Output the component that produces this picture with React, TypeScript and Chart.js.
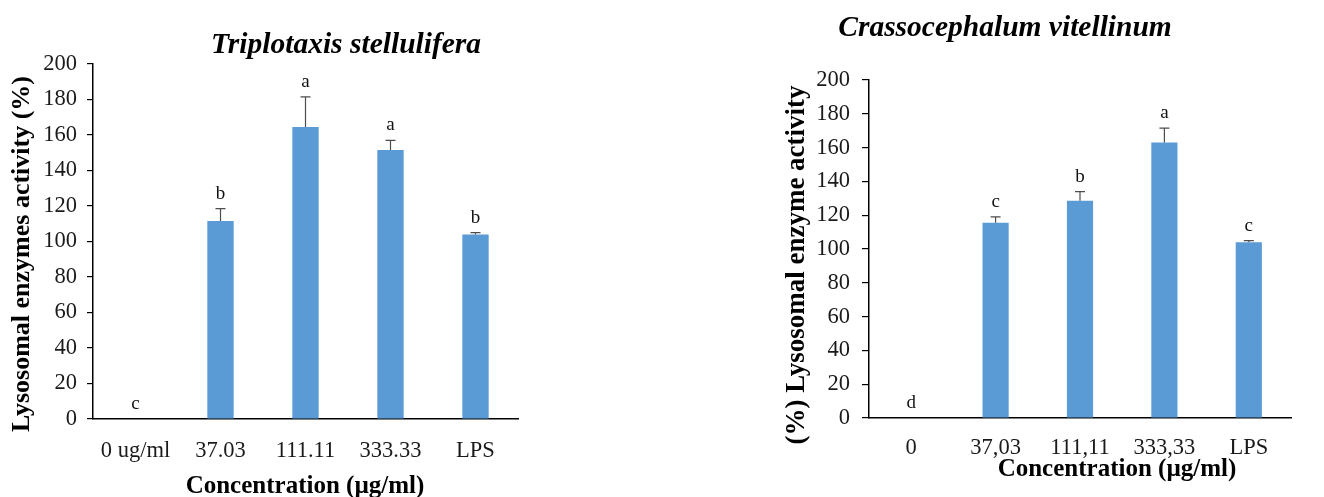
import React, { useEffect, useRef } from "react";
import { Chart, registerables } from "chart.js";

Chart.register(...registerables);

// ---- Data ----
const leftCategories = ["0 ug/ml", "37.03", "111.11", "333.33", "LPS"];
const leftValues = [0, 111.5, 164.5, 151.5, 104];
const leftErrors = [0, 7, 17, 5.5, 1];
const leftLetters = ["c", "b", "a", "a", "b"];

const rightCategories = ["0", "37,03", "111,11", "333,33", "LPS"];
const rightValues = [0, 115.5, 128.5, 163, 104];
const rightErrors = [0, 3.5, 5.5, 8.5, 1];
const rightLetters = ["d", "c", "b", "a", "c"];

const yTicks = [0, 20, 40, 60, 80, 100, 120, 140, 160, 180, 200];

const SERIF = "'Liberation Serif', 'Times New Roman', serif";
const BAR_COLOR = "#5B9BD5";

type PanelCfg = {
  categories: string[];
  values: number[];
  errors: number[];
  letters: string[];
  title: string;
  xTitle: string;
  yTitle: string;
  titlePos: [number, number];
  xTitlePos: [number, number];
  yTitlePos: [number, number];
  yTitleSize: number;
  padding: { top: number; right: number; left: number; bottom: number };
  yWidth: number;
  xHeight: number;
  tickLen: number;
  yPad: number;
  xPad: number;
};

function makeChart(canvas: HTMLCanvasElement, cfg: PanelCfg) {
  const overlay = {
    id: "overlay",
    afterDatasetsDraw(chart: any) {
      const ctx = chart.ctx as CanvasRenderingContext2D;
      const meta = chart.getDatasetMeta(0);
      const ys = chart.scales.y;
      ctx.save();
      meta.data.forEach((bar: any, i: number) => {
        const v = cfg.values[i];
        const e = cfg.errors[i];
        const x = bar.x;
        const yV = ys.getPixelForValue(v);
        const yT = ys.getPixelForValue(v + e);
        if (e > 0) {
          ctx.strokeStyle = "#4d4d4d";
          ctx.lineWidth = 1.2;
          ctx.beginPath();
          ctx.moveTo(x, yV);
          ctx.lineTo(x, yT);
          ctx.moveTo(x - 5, yT);
          ctx.lineTo(x + 5, yT);
          ctx.stroke();
        }
        ctx.fillStyle = "#111";
        ctx.font = `19px ${SERIF}`;
        ctx.textAlign = "center";
        ctx.textBaseline = "middle";
        ctx.fillText(cfg.letters[i], x, yT - 15);
      });
      // titles
      ctx.fillStyle = "#000";
      ctx.textAlign = "center";
      ctx.textBaseline = "middle";
      ctx.font = `italic bold 29.5px ${SERIF}`;
      ctx.fillText(cfg.title, cfg.titlePos[0], cfg.titlePos[1]);
      ctx.font = `bold 25px ${SERIF}`;
      ctx.fillText(cfg.xTitle, cfg.xTitlePos[0], cfg.xTitlePos[1]);
      ctx.save();
      ctx.translate(cfg.yTitlePos[0], cfg.yTitlePos[1]);
      ctx.rotate(-Math.PI / 2);
      ctx.font = `bold ${cfg.yTitleSize}px ${SERIF}`;
      ctx.fillText(cfg.yTitle, 0, 0);
      ctx.restore();
      ctx.restore();
    },
  };

  return new Chart(canvas, {
    type: "bar",
    data: {
      labels: cfg.categories,
      datasets: [
        {
          data: cfg.values,
          backgroundColor: BAR_COLOR,
          borderWidth: 0,
          barPercentage: 0.31,
          categoryPercentage: 1,
        },
      ],
    },
    options: {
      animation: false,
      responsive: true,
      maintainAspectRatio: false,
      layout: { padding: cfg.padding },
      plugins: {
        legend: { display: false },
        tooltip: { enabled: false },
        title: { display: false },
      },
      scales: {
        x: {
          grid: { display: false, drawTicks: false },
          border: { display: true, color: "#000", width: 1.5 },
          ticks: {
            color: "#1a1a1a",
            font: { family: SERIF, size: 22.5 },
            padding: cfg.xPad,
            maxRotation: 0,
            autoSkip: false,
          },
          afterFit(scale: any) {
            scale.height = cfg.xHeight;
          },
        },
        y: {
          min: 0,
          max: 200,
          afterBuildTicks(scale: any) {
            scale.ticks = yTicks.map((v) => ({ value: v }));
          },
          grid: {
            display: true,
            drawOnChartArea: false,
            drawTicks: true,
            tickLength: cfg.tickLen,
            color: "#000",
            lineWidth: 1.2,
          },
          border: { display: true, color: "#000", width: 1.5 },
          ticks: {
            color: "#1a1a1a",
            font: { family: SERIF, size: 22.5 },
            padding: cfg.yPad,
          },
          afterFit(scale: any) {
            scale.width = cfg.yWidth;
          },
        },
      },
    },
    plugins: [overlay],
  } as any);
}

const leftCfg: PanelCfg = {
  categories: leftCategories,
  values: leftValues,
  errors: leftErrors,
  letters: leftLetters,
  title: "Triplotaxis stellulifera",
  xTitle: "Concentration (µg/ml)",
  yTitle: "Lysosomal enzymes activity (%)",
  titlePos: [346, 45],
  xTitlePos: [305, 487],
  yTitlePos: [22, 254],
  yTitleSize: 26,
  padding: { top: 64, right: 42, left: 0, bottom: 0 },
  yWidth: 93,
  xHeight: 78,
  tickLen: 6,
  yPad: 10,
  xPad: 19,
};

const rightCfg: PanelCfg = {
  categories: rightCategories,
  values: rightValues,
  errors: rightErrors,
  letters: rightLetters,
  title: "Crassocephalum vitellinum",
  xTitle: "Concentration (µg/ml)",
  yTitle: "(%) Lysosomal enzyme activity",
  titlePos: [245, 28],
  xTitlePos: [357, 470],
  yTitlePos: [37, 265],
  yTitleSize: 27,
  padding: { top: 80, right: 33, left: 0, bottom: 0 },
  yWidth: 109,
  xHeight: 79,
  tickLen: 7,
  yPad: 12,
  xPad: 17,
};

function Panel({ cfg, left, width }: { cfg: PanelCfg; left: number; width: number }) {
  const ref = useRef<HTMLCanvasElement | null>(null);
  useEffect(() => {
    if (!ref.current) return;
    const chart = makeChart(ref.current, cfg);
    return () => chart.destroy();
  }, [cfg]);
  return (
    <div style={{ position: "absolute", left, top: 0, width, height: 497 }}>
      <canvas ref={ref} />
    </div>
  );
}

export default function App() {
  return (
    <div
      style={{
        position: "fixed",
        left: 0,
        top: 0,
        width: 1324,
        height: 497,
        background: "#fff",
        overflow: "hidden",
      }}
    >
      <Panel cfg={leftCfg} left={0} width={560} />
      <Panel cfg={rightCfg} left={760} width={564} />
    </div>
  );
}
